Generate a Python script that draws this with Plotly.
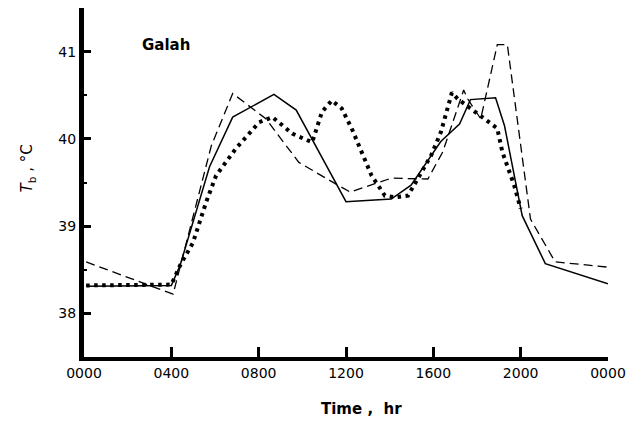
import plotly.graph_objects as go

# --- data (hours, body temperature °C) ---
solid_hr = [0.1, 4.0, 4.4, 5.75, 6.81, 8.70, 9.72, 12.0, 14.07, 14.98, 16.34, 17.2, 17.7, 18.85, 19.26, 20.07, 21.13, 22.42, 24.0]
solid_tb = [38.31, 38.32, 38.55, 39.68, 40.25, 40.51, 40.33, 39.28, 39.31, 39.47, 39.97, 40.17, 40.45, 40.47, 40.15, 39.12, 38.57, 38.47, 38.34]

dash_hr = [0.1, 4.08, 5.83, 6.81, 8.33, 9.84, 11.35, 12.19, 14.08, 15.75, 16.43, 17.39, 17.57, 18.17, 18.93, 19.39, 20.45, 21.58, 24.0]
dash_tb = [38.59, 38.22, 39.92, 40.52, 40.23, 39.73, 39.51, 39.39, 39.55, 39.54, 39.85, 40.56, 40.46, 40.23, 41.08, 41.08, 39.08, 38.59, 38.53]

dot_hr = [0.1, 4.0, 4.4, 4.99, 5.6, 6.05, 6.96, 8.02, 8.63, 9.54, 10.45, 10.9, 11.35, 11.8, 12.26, 12.72, 13.17, 13.78, 14.24, 14.84, 15.3, 15.9, 16.35, 16.66, 16.85, 17.11, 17.7, 18.55, 18.93, 19.16, 19.7, 20.0]
dot_tb = [38.32, 38.33, 38.55, 38.81, 39.28, 39.58, 39.89, 40.19, 40.25, 40.06, 39.96, 40.31, 40.44, 40.35, 40.12, 39.85, 39.58, 39.35, 39.33, 39.35, 39.54, 39.81, 40.08, 40.35, 40.53, 40.46, 40.35, 40.19, 40.12, 39.85, 39.47, 39.20]

tick_hours = [0, 4, 8, 12, 16, 20, 24]
tick_text = ["0000", "0400", "0800", "1200", "1600", "2000", "0000"]
y_ticks = [38, 39, 40, 41]

FONT = "DejaVu Sans"

fig = go.Figure()
fig.add_trace(go.Scatter(x=solid_hr, y=solid_tb, mode="lines",
                         line=dict(color="black", width=1.5), showlegend=False))
fig.add_trace(go.Scatter(x=dash_hr, y=dash_tb, mode="lines",
                         line=dict(color="black", width=1.3, dash="9px,5px"), showlegend=False))
fig.add_trace(go.Scatter(x=dot_hr, y=dot_tb, mode="lines",
                         line=dict(color="black", width=4, dash="3.5px,4.5px"), showlegend=False))

fig.update_layout(
    width=634, height=422,
    margin=dict(l=84, r=22, t=8, b=65),
    paper_bgcolor="white", plot_bgcolor="white",
    font=dict(family=FONT, color="#000000", size=14),
    xaxis=dict(range=[0, 24], tickvals=tick_hours, ticktext=tick_text,
               ticks="inside", ticklen=10, tickwidth=2.5, tickcolor="black",
               showline=True, linewidth=4, linecolor="black",
               showgrid=False, zeroline=False,
               tickfont=dict(family=FONT, size=14, color="#000000")),
    yaxis=dict(range=[37.5, 41.5], tickvals=y_ticks,
               ticks="inside", ticklen=7, tickwidth=2.5, tickcolor="black",
               minor=dict(ticks="inside", ticklen=3, tickwidth=2, dtick=0.5, tickcolor="black"),
               showline=True, linewidth=5, linecolor="black",
               showgrid=False, zeroline=False,
               tickfont=dict(family=FONT, size=14, color="#000000")),
    annotations=[
        dict(text="Galah", xref="paper", yref="paper", x=0.157, y=0.894,
             xanchor="center", yanchor="middle", showarrow=False,
             font=dict(family=FONT, size=15, color="#000000", weight="bold")),
        dict(text="<i>T</i><sub>b</sub> , °C", xref="paper", yref="paper",
             x=(27 - 84) / 528, y=(357 - 168) / 349, textangle=-90,
             xanchor="center", yanchor="middle", showarrow=False,
             font=dict(family=FONT, size=15, color="#000000")),
        dict(text="Time ,  hr", xref="paper", yref="paper",
             x=(363.5 - 84) / 528, y=(357 - 409) / 349,
             xanchor="center", yanchor="middle", showarrow=False,
             font=dict(family=FONT, size=15, color="#000000", weight="bold")),
    ],
)

fig.write_html("out.html")
